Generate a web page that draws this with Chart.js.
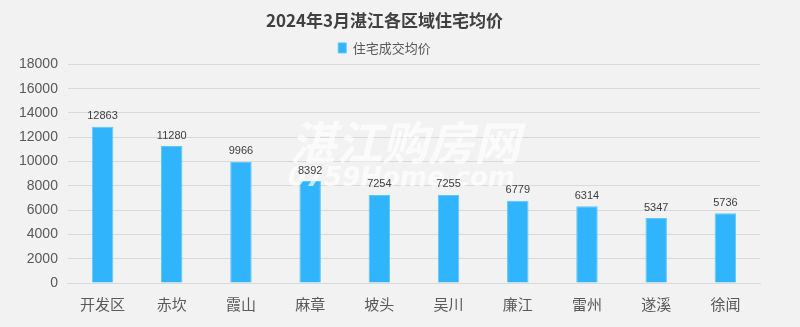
<!DOCTYPE html>
<html>
<head>
<meta charset="utf-8">
<script src="https://cdn.jsdelivr.net/npm/chart.js@4.4.1/dist/chart.umd.min.js"></script>
<style>
  html, body { margin: 0; padding: 0; background: #f2f2f2; }
  #wrap { width: 800px; height: 327px; position: relative; }
</style>
</head>
<body>
<div id="wrap"><canvas id="myChart" width="800" height="327"></canvas></div>
<script>
// 各区域住宅成交均价（元/㎡）
const districts = ["开发区", "赤坎", "霞山", "麻章", "坡头", "吴川", "廉江", "雷州", "遂溪", "徐闻"];
const avgPrice = [12863, 11280, 9966, 8392, 7254, 7255, 6779, 6314, 5347, 5736];
const yTicks = [0, 2000, 4000, 6000, 8000, 10000, 12000, 14000, 16000, 18000];

const CJK = "'Noto Sans CJK SC', 'Noto Sans', sans-serif";

// 水印画在柱子之上、数值之下
const valueLabels = {
    id: "valueLabels",
    afterDatasetsDraw(chart) {
        const ctx = chart.ctx;
        ctx.save();
        ctx.fillStyle = "rgba(255,255,255,0.7)";
        ctx.textAlign = "left";
        ctx.textBaseline = "alphabetic";
        ctx.font = "italic bold 46px " + CJK;
        ctx.fillText("湛江购房网", 290, 160);
        ctx.font = "italic bold 26px 'DejaVu Sans', sans-serif";
        ctx.fillText("0759Home.com", 288, 186);

        const meta = chart.getDatasetMeta(0);
        ctx.fillStyle = "#404040";
        ctx.font = "11px 'Liberation Sans', sans-serif";
        ctx.textAlign = "center";
        ctx.textBaseline = "bottom";
        meta.data.forEach((bar, i) => {
            ctx.fillText(avgPrice[i], bar.x, bar.y - 5);
        });
        ctx.restore();
    }
};

const data = {
    labels: districts,
    datasets: [{
        label: "住宅成交均价",
        data: avgPrice,
        backgroundColor: "#30b4fb",
        borderColor: "#5ec6fb",
        borderWidth: 1,
        barPercentage: 0.31,
        categoryPercentage: 1
    }]
};

const config = {
    type: "bar",
    data: data,
    options: {
        responsive: false,
        animation: false,
        layout: { padding: { left: 9, right: 40, top: 4, bottom: 10 } },
        plugins: {
            title: {
                display: true,
                text: "2024年3月湛江各区域住宅均价",
                color: "#404040",
                font: { family: CJK, size: 17, weight: "bold" },
                padding: { top: 6, bottom: 11 }
            },
            legend: {
                display: true,
                labels: {
                    color: "#595959",
                    font: { family: CJK, size: 13 },
                    boxWidth: 8,
                    boxHeight: 10,
                    padding: 0
                }
            },
            tooltip: { enabled: false }
        },
        scales: {
            x: {
                grid: { display: false },
                border: { color: "#d9d9d9" },
                ticks: { color: "#595959", font: { family: CJK, size: 15 }, padding: 4 }
            },
            y: {
                min: 0,
                max: 18000,
                afterBuildTicks(axis) { axis.ticks = yTicks.map(v => ({ value: v })); },
                grid: { color: "#d9d9d9", drawTicks: false },
                border: { display: false },
                ticks: {
                    color: "#595959",
                    font: { family: "'Liberation Sans', sans-serif", size: 14 },
                    padding: 10,
                    callback: v => String(v)
                }
            }
        }
    },
    plugins: [valueLabels]
};

window.onload = function () {
    new Chart(document.getElementById("myChart"), config);
};
</script>
</body>
</html>
